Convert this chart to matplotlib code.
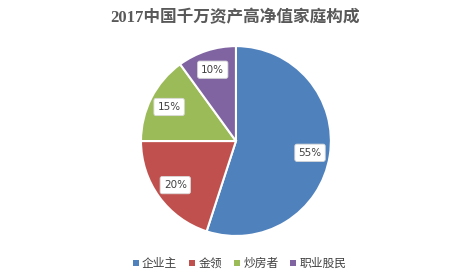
import matplotlib
matplotlib.use("Agg")
import matplotlib.pyplot as plt
from matplotlib.patches import Rectangle

plt.rcParams['font.family'] = ['Noto Sans CJK SC', 'DejaVu Sans']

title = "2017中国千万资产高净值家庭构成"
categories = ["企业主", "金领", "炒房者", "职业股民"]
values = [55, 20, 15, 10]
colors = ["#4F81BD", "#C0504D", "#9BBB59", "#8064A2"]

fig = plt.figure(figsize=(4.7, 2.76), dpi=100)
fig.patch.set_facecolor("white")

ax = fig.add_axes([0.502 - 0.202, 0.489 - 0.344, 0.404, 0.688])
wedges, texts, autotexts = ax.pie(
    values, colors=colors, startangle=90, counterclock=False,
    autopct=lambda p: f"{p:.0f}%", pctdistance=0.79,
    wedgeprops=dict(edgecolor="white", linewidth=1.5),
    textprops=dict(fontsize=7.5, color="#404040", family=["DejaVu Sans"]))
for t in autotexts:
    t.set_bbox(dict(boxstyle="round,pad=0.35,rounding_size=0.2", facecolor="white", edgecolor="#d8d8d8", linewidth=0.6))
ax.set_xlim(-1, 1)
ax.set_ylim(-1, 1)
ax.set_aspect("equal")

fig.text(0.5, 0.935, title, ha="center", va="center", fontsize=12, fontweight="bold",
         color="#595959", family=["Liberation Serif", "Noto Sans CJK SC"])

handles = [Rectangle((0, 0), 1, 1, facecolor=c) for c in colors]
fig.legend(handles, categories, loc="center", bbox_to_anchor=(0.51, 0.045), ncol=4,
           frameon=False, fontsize=8.5, handlelength=0.5, handleheight=0.5,
           handletextpad=0.3, columnspacing=1.0, labelcolor="#404040")

fig.savefig("out.png", dpi=100, facecolor="white")
